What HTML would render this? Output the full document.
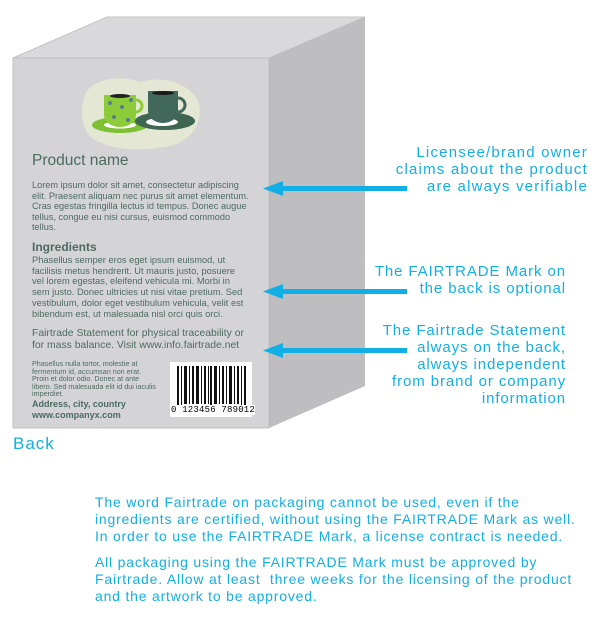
<!DOCTYPE html>
<html><head><style>
body{margin:0;width:600px;height:620px;background:#fff;position:relative;overflow:hidden;font-family:"Liberation Sans",sans-serif}
.a{position:absolute;white-space:nowrap}
.g{color:#4d6b60}
.b{color:#12afe6;font-size:15px;line-height:17px;letter-spacing:1px}
.r{text-align:right}
</style></head><body>
<svg width="600" height="620" style="position:absolute;left:0;top:0">
<polygon points="13,58 107,17 365,17 269,58" fill="#d9d9db" stroke="#c4c4c6"/>
<polygon points="269,58 365,17 365,386 269,428" fill="#bebec0"/>
<line x1="269" y1="58" x2="269" y2="428" stroke="#a9a9ab" stroke-width="1.5"/>
<rect x="13" y="58" width="256" height="370" fill="#d4d4d7" stroke="#c0c0c2"/>
<path d="M85,95 C92,78 120,75 140,82 C160,76 185,80 198,100 C204,118 195,140 170,146 C140,152 110,150 92,138 C80,128 80,108 85,95Z" fill="#e3e7d4"/>
<ellipse cx="120" cy="125" rx="28" ry="8" fill="#7dc033"/>
<ellipse cx="120" cy="125" rx="16" ry="3.5" fill="#fff"/>
<path d="M104,95 h32 v20 a16,12 0 0 1 -32,0Z" fill="#8ccc3a"/>
<path d="M136,100 a6,6 0 0 1 0,12" stroke="#8ccc3a" stroke-width="3" fill="none"/>
<ellipse cx="120" cy="96" rx="10" ry="2" fill="#222"/>
<circle cx="110" cy="103" r="2" fill="#5a7a90"/><circle cx="122" cy="107" r="2" fill="#5a7a90"/><circle cx="131" cy="100" r="2" fill="#5a7a90"/><circle cx="114" cy="117" r="2" fill="#5a7a90"/><circle cx="128" cy="120" r="2" fill="#5a7a90"/>
<ellipse cx="165" cy="121" rx="30" ry="9" fill="#3e6650"/>
<ellipse cx="162" cy="122" rx="16" ry="4" fill="#fff"/>
<path d="M148,91 h30 v20 a15,12 0 0 1 -30,0Z" fill="#41685a"/>
<path d="M178,98 a7,7 0 0 1 0,14" stroke="#41685a" stroke-width="3" fill="none"/>
<ellipse cx="163" cy="93" rx="11" ry="2" fill="#1a1a1a"/>
<rect x="170" y="362" width="82" height="55" fill="#fff"/>
<g fill="#111">
<rect x="177" y="366" width="2" height="42"/><rect x="181" y="366" width="1" height="42"/><rect x="184" y="366" width="3" height="38"/><rect x="189" y="366" width="1" height="38"/><rect x="192" y="366" width="2" height="38"/><rect x="196" y="366" width="3" height="38"/><rect x="201" y="366" width="1" height="38"/><rect x="204" y="366" width="2" height="38"/><rect x="208" y="366" width="1" height="38"/><rect x="210" y="366" width="2" height="42"/><rect x="214" y="366" width="3" height="38"/><rect x="219" y="366" width="1" height="38"/><rect x="222" y="366" width="2" height="38"/><rect x="226" y="366" width="1" height="38"/><rect x="229" y="366" width="3" height="38"/><rect x="234" y="366" width="1" height="38"/><rect x="237" y="366" width="2" height="38"/><rect x="241" y="366" width="1" height="42"/><rect x="244" y="366" width="2" height="42"/>
</g>
<g fill="#12afe6">
<rect x="280" y="186" width="127" height="5"/><polygon points="263,188.5 283,181 283,196"/>
<rect x="280" y="289" width="127" height="5"/><polygon points="263,291.5 283,284 283,299"/>
<rect x="280" y="348" width="127" height="5"/><polygon points="263,350.5 283,343 283,358"/>
</g>
</svg>
<div class="a g" style="left:32px;top:152px;font-size:15.5px">Product name</div>
<div class="a g" style="left:32px;top:180px;font-size:9.2px;line-height:10.5px">Lorem ipsum dolor sit amet, consectetur adipiscing<br>elit. Praesent aliquam nec purus sit amet elementum.<br>Cras egestas fringilla lectus id tempus. Donec augue<br>tellus, congue eu nisi cursus, euismod commodo<br>tellus.</div>
<div class="a g" style="left:32px;top:240px;font-size:12px;font-weight:bold">Ingredients</div>
<div class="a g" style="left:32px;top:255px;font-size:9.3px;line-height:10.7px">Phasellus semper eros eget ipsum euismod, ut<br>facilisis metus hendrerit. Ut mauris justo, posuere<br>vel lorem egestas, eleifend vehicula mi. Morbi in<br>sem justo. Donec ultricies ut nisi vitae pretium. Sed<br>vestibulum, dolor eget vestibulum vehicula, velit est<br>bibendum est, ut malesuada nisl orci quis orci.</div>
<div class="a g" style="left:32px;top:328px;font-size:10.4px;line-height:12px">Fairtrade Statement for physical traceability or<br>for mass balance. Visit www.info.fairtrade.net</div>
<div class="a g" style="left:32px;top:360px;font-size:7.2px;line-height:7.6px">Phasellus nulla tortor, molestie at<br>fermentum id, accumsan non erat.<br>Proin et dolor odio. Donec at ante<br>libero. Sed malesuada elit id dui iaculis<br>imperdiet.</div>
<div class="a g" style="left:32px;top:399px;font-size:9px;line-height:11px;font-weight:bold">Address, city, country<br>www.companyx.com</div>
<div class="a" style="left:171px;top:405px;font-size:9px;font-family:'Liberation Mono',monospace;background:#fff;letter-spacing:0.2px">0 123456 789012</div>
<div class="a b" style="left:13px;top:435px;font-size:17px">Back</div>
<div class="a b r" style="right:12px;top:144px;letter-spacing:1.2px">Licensee/brand owner<br>claims about the product<br>are always verifiable</div>
<div class="a b r" style="right:34px;top:263px;letter-spacing:0.9px">The FAIRTRADE Mark on<br>the back is optional</div>
<div class="a b r" style="right:34px;top:322px;letter-spacing:0.9px">The Fairtrade Statement<br>always on the back,<br>always independent<br>from brand or company<br>information</div>
<div class="a b" style="left:95px;top:494px;font-size:14px;letter-spacing:0.8px">The word Fairtrade on packaging cannot be used, even if the<br>ingredients are certified, without using the FAIRTRADE Mark as well.<br>In order to use the FAIRTRADE Mark, a license contract is needed.</div>
<div class="a b" style="left:95px;top:554px;font-size:14px;letter-spacing:0.8px">All packaging using the FAIRTRADE Mark must be approved by<br>Fairtrade. Allow at least&nbsp; three weeks for the licensing of the product<br>and the artwork to be approved.</div>
</body></html>
